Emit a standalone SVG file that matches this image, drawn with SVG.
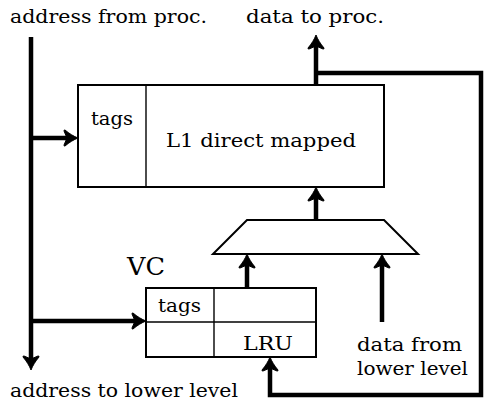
<svg xmlns="http://www.w3.org/2000/svg" width="484" height="402" viewBox="0 0 484 402">
<style>
text{font-family:"DejaVu Serif","Liberation Serif",serif;font-size:18px;fill:#000}
.vc{font-size:25px}
.box{fill:#fff;stroke:#000;stroke-width:2}
.div{stroke:#000;stroke-width:1.4;fill:none}
.w{stroke:#000;stroke-width:4.5;fill:none;stroke-linejoin:miter}
</style>
<defs>
<marker id="ah" markerUnits="userSpaceOnUse" viewBox="-14 -9 22 18" markerWidth="22" markerHeight="18" refX="0" refY="0" orient="auto" overflow="visible">
<path d="M7,0 C3,-1.5 -2,-4.5 -6,-8 Q-7,-8.5 -7,-7 L-4,0 L-7,7 Q-7,8.5 -6,8 C-2,4.5 3,1.5 7,0 Z" fill="#000" stroke="#000" stroke-width="1" stroke-linejoin="round"/>
</marker>
</defs>
<rect width="484" height="402" fill="#fff"/>
<g id="connectors">
<line class="w" x1="31" y1="37" x2="31" y2="363" marker-end="url(#ah)"/>
<line class="w" x1="31" y1="138" x2="71" y2="138" marker-end="url(#ah)"/>
<line class="w" x1="31" y1="321" x2="139" y2="321" marker-end="url(#ah)"/>
<line class="w" x1="316" y1="86" x2="316" y2="42" marker-end="url(#ah)"/>
<polyline class="w" points="316,73 481,73 481,395 270,395 270,364" marker-end="url(#ah)"/>
<line class="w" x1="316" y1="220" x2="316" y2="194" marker-end="url(#ah)"/>
<line class="w" x1="247" y1="288" x2="247" y2="261" marker-end="url(#ah)"/>
<line class="w" x1="382" y1="322" x2="382" y2="261" marker-end="url(#ah)"/>
</g>
<g id="L1">
<rect class="box" x="78" y="85" width="306" height="102"/>
<line class="div" x1="146" y1="85" x2="146" y2="187"/>
<text x="91" y="125" textLength="42" lengthAdjust="spacingAndGlyphs">tags</text>
<text x="166" y="147" textLength="190" lengthAdjust="spacingAndGlyphs">L1 direct mapped</text>
</g>
<g id="mux">
<polygon class="box" points="247,220 384,220 418,254 213,254"/>
</g>
<g id="VC">
<rect class="box" x="146" y="288" width="170" height="69"/>
<line class="div" x1="146" y1="322" x2="316" y2="322"/>
<line class="div" x1="214" y1="288" x2="214" y2="357"/>
<text x="158" y="312" textLength="43" lengthAdjust="spacingAndGlyphs">tags</text>
<text x="243" y="350" textLength="50" lengthAdjust="spacingAndGlyphs">LRU</text>
<text class="vc" x="127" y="275" textLength="38" lengthAdjust="spacingAndGlyphs">VC</text>
</g>
<g id="labels">
<text x="10" y="23" textLength="197" lengthAdjust="spacingAndGlyphs">address from proc.</text>
<text x="246" y="23" textLength="138" lengthAdjust="spacingAndGlyphs">data to proc.</text>
<text x="357" y="351" textLength="105" lengthAdjust="spacingAndGlyphs">data from</text>
<text x="357" y="375" textLength="111" lengthAdjust="spacingAndGlyphs">lower level</text>
<text x="10" y="397" textLength="228" lengthAdjust="spacingAndGlyphs">address to lower level</text>
</g>
</svg>
